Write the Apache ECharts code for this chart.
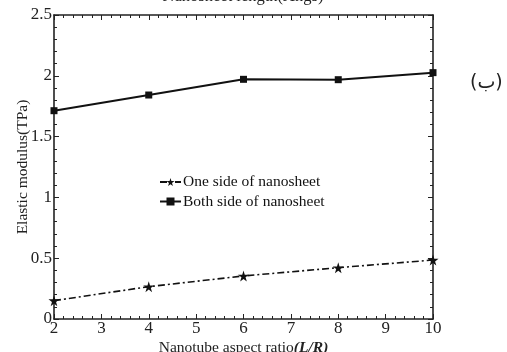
<!DOCTYPE html>
<html>
<head>
<meta charset="utf-8">
<script src="https://cdn.jsdelivr.net/npm/echarts@6/dist/echarts.min.js"></script>
<style>
  html, body { margin: 0; padding: 0; background: #fff; }
  #chart { width: 507px; height: 352px; }
</style>
</head>
<body>
<div id="chart"></div>
<script>
const aspectRatio = [2, 4, 6, 8, 10];
const oneSide = [0.151, 0.266, 0.354, 0.422, 0.485];
const bothSide = [1.713, 1.842, 1.971, 1.968, 2.026];
const seriesNames = ['One side of nanosheet', 'Both side of nanosheet'];

const FONT = '"Liberation Serif", "DejaVu Serif", serif';
const star = 'path://M50,0 L61,35 L98,35 L68,57 L79,91 L50,70 L21,91 L32,57 L2,35 L39,35 Z';

const chart = echarts.init(document.getElementById('chart'));

// box axes: same look on all four sides, ticks pointing inward
function boxAxis(extra) {
    return Object.assign({
        type: 'value',
        axisLine: { show: true, onZero: false, lineStyle: { color: '#222', width: 1.6 } },
        axisTick: { show: true, inside: true, length: 5, lineStyle: { color: '#222', width: 1 } },
        minorTick: { show: true, splitNumber: 5, length: 3, lineStyle: { color: '#222', width: 1 } },
        splitLine: { show: false }
    }, extra);
}

chart.setOption({
    animation: false,
    backgroundColor: '#fff',
    textStyle: { fontFamily: FONT },
    grid: { left: 54, right: 74, top: 15, bottom: 33, outerBoundsMode: 'none', containLabel: false },
    graphic: [
        {
            type: 'text', x: 243, y: -12,
            style: { text: 'Nanosheet length(Angs)', font: '16.5px ' + FONT, fill: '#222', align: 'center' }
        },
        {
            type: 'text', x: 470, y: 74,
            style: { text: '(ب)', font: '19px "DejaVu Sans", "Noto Sans", sans-serif', fill: '#222' }
        }
    ],
    legend: {
        orient: 'vertical',
        left: 154, top: 169,
        itemWidth: 21, itemHeight: 10, itemGap: 3.5,
        textStyle: { fontFamily: FONT, fontSize: 15.5, color: '#111', padding: [0, 0, 0, -3] },
        data: seriesNames
    },
    xAxis: [
        boxAxis({
            min: 2, max: 10, interval: 1,
            name: 'Nanotube aspect ratio{i|(L/R)}',
            nameLocation: 'middle', nameGap: 21, nameMoveOverlap: false,
            nameTextStyle: {
                fontFamily: FONT, fontSize: 15.5, color: '#222',
                rich: { i: { fontFamily: FONT, fontSize: 15.5, fontStyle: 'italic', fontWeight: 'bold', color: '#222' } }
            },
            axisLabel: { fontFamily: FONT, fontSize: 17, color: '#222', margin: 1 }
        }),
        boxAxis({ position: 'top', min: 2, max: 10, interval: 1, axisLabel: { show: false } })
    ],
    yAxis: [
        boxAxis({
            min: 0, max: 2.5, interval: 0.5,
            name: 'Elastic modulus(TPa)',
            nameLocation: 'middle', nameGap: 23, nameMoveOverlap: false,
            nameTextStyle: { fontFamily: FONT, fontSize: 15.5, color: '#222' },
            axisLabel: { fontFamily: FONT, fontSize: 17, color: '#222', margin: 2 }
        }),
        boxAxis({ position: 'right', min: 0, max: 2.5, interval: 0.5, axisLabel: { show: false } })
    ],
    series: [
        {
            name: seriesNames[0],
            type: 'line',
            data: aspectRatio.map((x, i) => [x, oneSide[i]]),
            symbol: star, symbolSize: 11,
            itemStyle: { color: '#111' },
            lineStyle: { color: '#111', width: 1.6, type: [7, 3, 2, 3] }
        },
        {
            name: seriesNames[1],
            type: 'line',
            data: aspectRatio.map((x, i) => [x, bothSide[i]]),
            symbol: 'rect', symbolSize: 7,
            itemStyle: { color: '#111' },
            lineStyle: { color: '#111', width: 2 }
        }
    ]
});
</script>
</body>
</html>
